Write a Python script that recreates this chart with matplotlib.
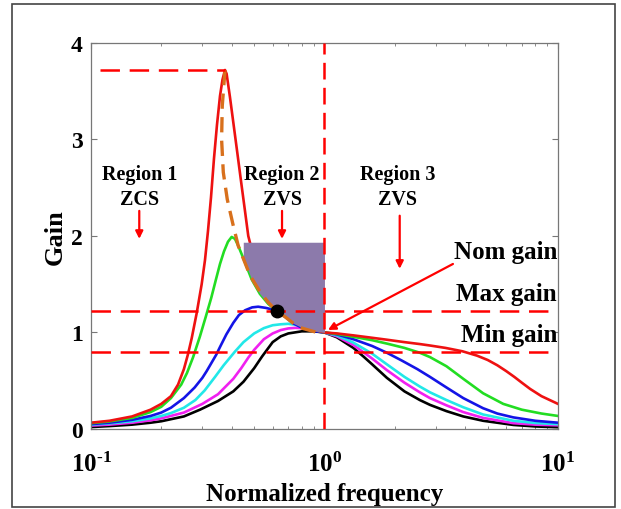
import numpy as np
import matplotlib
matplotlib.use("Agg")
import matplotlib.pyplot as plt
from matplotlib.patches import Rectangle

# ---- gain curves (normalized frequency, gain) ----
red_f = [0.1, 0.12, 0.15, 0.18, 0.2, 0.22, 0.236, 0.25, 0.26, 0.27, 0.2836, 0.2979, 0.3078, 0.317,
         0.3266, 0.3363, 0.3464, 0.3569, 0.3658, 0.375, 0.381, 0.3937, 0.4068, 0.424, 0.4418, 0.4566,
         0.4717, 0.4892, 0.52, 0.55, 0.6, 0.7, 0.8, 0.9, 1.0, 1.13, 1.33, 1.6, 1.85, 2.2, 2.56, 2.83,
         3.3, 3.9, 4.5, 5.0, 5.5, 6.0, 6.5, 7.0, 7.6, 8.5, 10]
red_g = [0.065, 0.085, 0.13, 0.2, 0.26, 0.34, 0.46, 0.62, 0.77, 0.94, 1.2, 1.5, 1.75, 2.05,
         2.4, 2.8, 3.15, 3.45, 3.62, 3.72, 3.68, 3.44, 3.18, 2.85, 2.52, 2.26,
         2.0, 1.85, 1.65, 1.52, 1.36, 1.18, 1.09, 1.03, 1.0, 0.99, 0.97, 0.945, 0.925, 0.9, 0.88, 0.865,
         0.84, 0.805, 0.76, 0.715, 0.66, 0.60, 0.54, 0.48, 0.415, 0.34, 0.26]

green_f = [0.1, 0.12, 0.15, 0.18, 0.2, 0.22, 0.2435, 0.2577, 0.2734, 0.2929, 0.3108, 0.3275, 0.343,
           0.3569, 0.3712, 0.3861, 0.4004, 0.4137, 0.427, 0.449, 0.4566, 0.4877, 0.529, 0.575, 0.626,
           0.7, 0.8, 0.9, 1.0, 1.13, 1.33, 1.6, 1.85, 2.2, 2.56, 2.83, 3.33, 3.93, 4.78, 5.83, 7.0, 8.5, 10]
green_g = [0.06, 0.078, 0.115, 0.175, 0.23, 0.32, 0.46, 0.58, 0.74, 0.96, 1.17, 1.36, 1.55,
           1.71, 1.84, 1.94, 1.99, 1.97, 1.90, 1.77, 1.727, 1.55, 1.40, 1.295, 1.22,
           1.15, 1.08, 1.03, 1.0, 0.985, 0.955, 0.92, 0.885, 0.84, 0.79, 0.745, 0.65, 0.52, 0.37, 0.26, 0.20, 0.16, 0.135]

blue_f = [0.1, 0.12, 0.15, 0.18, 0.2, 0.22, 0.25, 0.278, 0.3, 0.313, 0.344, 0.357, 0.38, 0.407, 0.43,
          0.457, 0.49, 0.52, 0.56, 0.594, 0.626, 0.68, 0.735, 0.8, 0.9, 1.0, 1.13, 1.33, 1.6, 1.85,
          2.14, 2.5, 2.83, 3.33, 3.93, 4.78, 5.5, 6.44, 8, 10]
blue_g = [0.05, 0.065, 0.095, 0.135, 0.17, 0.22, 0.32, 0.43, 0.53, 0.60, 0.77, 0.85, 0.98, 1.10, 1.18,
          1.23, 1.26, 1.267, 1.255, 1.24, 1.22, 1.16, 1.095, 1.05, 1.015, 1.0, 0.98, 0.93, 0.86, 0.79,
          0.71, 0.62, 0.54, 0.43, 0.32, 0.215, 0.16, 0.12, 0.085, 0.065]

cyan_f = [0.1, 0.12, 0.15, 0.18, 0.2, 0.22, 0.25, 0.28, 0.307, 0.34, 0.37, 0.413, 0.45, 0.5, 0.55,
          0.6, 0.65, 0.7, 0.75, 0.8, 0.9, 1.0, 1.13, 1.33, 1.6, 1.85, 2.2, 2.56, 2.83, 3.33, 3.93,
          4.78, 6.44, 8, 10]
cyan_g = [0.045, 0.058, 0.08, 0.11, 0.135, 0.165, 0.22, 0.30, 0.40, 0.54, 0.66, 0.80, 0.90, 0.99, 1.045,
          1.075, 1.085, 1.09, 1.08, 1.06, 1.025, 1.0, 0.97, 0.895, 0.78, 0.67, 0.54, 0.44, 0.38, 0.30, 0.225,
          0.15, 0.085, 0.062, 0.05]

mag_f = [0.1, 0.12, 0.15, 0.18, 0.2, 0.25, 0.3, 0.35, 0.407, 0.44, 0.472, 0.5, 0.55, 0.6, 0.65,
         0.7, 0.75, 0.8, 0.9, 1.0, 1.13, 1.33, 1.6, 1.85, 2.2, 2.56, 2.83, 3.33, 3.93, 4.78, 6.44, 8, 10]
mag_g = [0.035, 0.045, 0.065, 0.09, 0.11, 0.17, 0.26, 0.36, 0.52, 0.63, 0.74, 0.82, 0.93, 0.99, 1.025,
         1.042, 1.048, 1.045, 1.025, 1.0, 0.96, 0.87, 0.73, 0.61, 0.48, 0.38, 0.32, 0.245, 0.175, 0.115,
         0.06, 0.045, 0.038]

blk_f = [0.1, 0.12, 0.15, 0.18, 0.2, 0.25, 0.293, 0.35, 0.407, 0.45, 0.5, 0.54, 0.6, 0.65, 0.7,
         0.8, 0.9, 1.0, 1.13, 1.33, 1.47, 1.6, 1.85, 2.2, 2.56, 2.83, 3.33, 3.93, 4.78, 6.44, 8, 10]
blk_g = [0.02, 0.03, 0.045, 0.065, 0.08, 0.13, 0.20, 0.29, 0.39, 0.49, 0.63, 0.75, 0.90, 0.96, 0.99,
         1.012, 1.012, 1.0, 0.95, 0.84, 0.75, 0.67, 0.53, 0.39, 0.30, 0.25, 0.185, 0.13, 0.085, 0.042,
         0.026, 0.018]

# peak locus (orange dashed)
locus_f = [0.375, 0.365, 0.3626, 0.3687, 0.3834, 0.4047, 0.427, 0.48, 0.53, 0.575, 0.626, 0.68, 0.735, 0.8, 0.93]
locus_g = [3.72, 3.35, 3.0, 2.66, 2.38, 2.13, 1.90, 1.59, 1.42, 1.31, 1.22, 1.16, 1.095, 1.045, 1.0]

max_gain = 1.22
min_gain = 0.8
peak_gain = 3.72
peak_f = 0.375
nom_f = 1.0
dot_f, dot_g = 0.626, 1.22
region_top = 1.935
region_left = 0.449

SERIF = "Liberation Serif"
plt.rcParams["font.family"] = SERIF
plt.rcParams["font.weight"] = "bold"
plt.rcParams["mathtext.fontset"] = "custom"
plt.rcParams["mathtext.rm"] = SERIF + ":bold"
plt.rcParams["mathtext.bf"] = SERIF + ":bold"
plt.rcParams["mathtext.it"] = SERIF + ":bold"
plt.rcParams["lines.scale_dashes"] = False

fig = plt.figure(figsize=(6.21, 5.10), dpi=100)
ax = fig.add_axes([0.1465, 0.1569, 0.7520, 0.7569])

curves = [
    (blk_f, blk_g, "black"),
    (mag_f, mag_g, "#f020f0"),
    (cyan_f, cyan_g, "#22e8e8"),
    (blue_f, blue_g, "#1414e6"),
    (green_f, green_g, "#22dd22"),
    (red_f, red_g, "#ee1111"),
]
for f, g, c in curves:
    ax.plot(f, g, color=c, lw=1.9, zorder=2, solid_joinstyle="round")

# shaded design region: bounded by green up to the dot, then by blue
gf = np.array(green_f); gg = np.array(green_g)
bf = np.array(blue_f); bg = np.array(blue_g)
m1 = (gf >= region_left) & (gf <= dot_f)
m2 = (bf > dot_f) & (bf <= nom_f)
fx = np.concatenate([gf[m1], bf[m2]])
fy = np.concatenate([gg[m1], bg[m2]])
ax.fill_between(fx, fy, region_top, color="#8c7aab", lw=0, zorder=3)

ax.plot(locus_f, locus_g, color="#d8701c", lw=2.4, dashes=(11, 6), zorder=4)

dash = (14, 7)
ax.axhline(max_gain, color="red", lw=1.8, dashes=dash, zorder=5)
ax.axhline(min_gain, color="red", lw=1.8, dashes=dash, zorder=5)
ax.axvline(nom_f, color="red", lw=1.8, dashes=(12, 6), zorder=5)
ax.plot([0.109, peak_f], [peak_gain, peak_gain], color="red", lw=1.8, dashes=dash, zorder=5)

ax.plot([dot_f], [dot_g], "o", color="black", ms=9, zorder=6)

ax.set_xscale("log")
ax.set_xlim(0.1, 10)
ax.set_ylim(0, 4)
ax.set_yticks([0, 1, 2, 3, 4])
ax.set_xticks([0.1, 1, 10])
ax.set_xticklabels([r"$10^{\text{-}1}$", r"$10^{0}$", r"$10^{1}$"])
ax.tick_params(which="both", direction="in", top=True, right=True, color="#777777")
ax.tick_params(which="major", length=4, width=0.8)
ax.tick_params(which="minor", length=2.5, width=0.6)
ax.tick_params(axis="y", labelsize=17, pad=6)
ax.tick_params(axis="x", labelsize=18, pad=16)
for s in ax.spines.values():
    s.set_color("#777777")
    s.set_linewidth(0.9)

ax.set_ylabel("Gain", fontsize=19, fontweight="bold", labelpad=3)
ax.set_xlabel("Normalized frequency", fontsize=18, fontweight="bold", labelpad=5)

txt = dict(ha="center", va="center", fontsize=14.5, fontweight="bold", zorder=7)
ax.text(0.162, 2.64, "Region 1", **txt)
ax.text(0.162, 2.38, "ZCS", **txt)
ax.text(0.658, 2.64, "Region 2", **txt)
ax.text(0.658, 2.38, "ZVS", **txt)
ax.text(2.06, 2.64, "Region 3", **txt)
ax.text(2.06, 2.38, "ZVS", **txt)

arr = dict(arrowstyle="-|>", color="red", lw=1.6, mutation_scale=11, shrinkA=0, shrinkB=0)
ax.annotate("", xy=(0.161, 1.97), xytext=(0.161, 2.26), arrowprops=arr, zorder=7)
ax.annotate("", xy=(0.658, 1.97), xytext=(0.658, 2.26), arrowprops=arr, zorder=7)
ax.annotate("", xy=(2.10, 1.66), xytext=(2.10, 2.21), arrowprops=arr, zorder=7)
ax.annotate("", xy=(1.035, 1.026), xytext=(3.55, 1.71), arrowprops=arr, zorder=7)

lab = dict(ha="right", va="center", fontsize=18, fontweight="bold", zorder=7)
ax.text(9.9, 1.834, "Nom gain", **lab)
ax.text(9.9, 1.40, "Max gain", **lab)
ax.text(9.9, 0.974, "Min gain", **lab)

fig.add_artist(Rectangle((12 / 621, 2 / 510), 603 / 621, 503 / 510, transform=fig.transFigure,
                         fill=False, edgecolor="#444444", lw=1.2))

fig.savefig("out.png", dpi=100)
